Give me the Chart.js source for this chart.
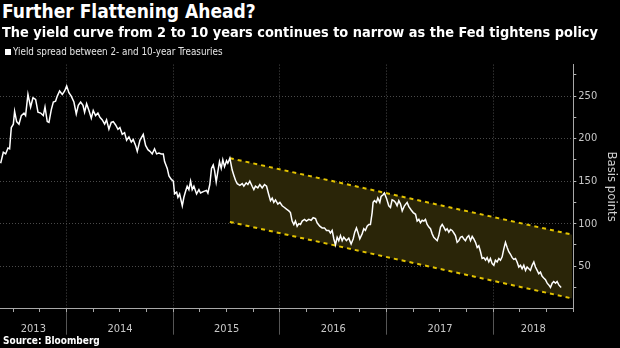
<!DOCTYPE html>
<html>
<head>
<meta charset="utf-8">
<script src="https://cdn.jsdelivr.net/npm/chart.js@4.4.1/dist/chart.umd.min.js"></script>
<style>
  html, body { margin: 0; padding: 0; background: #000; }
  body {
    width: 620px; height: 348px; position: relative; overflow: hidden;
    font-family: "DejaVu Sans Condensed", "DejaVu Sans", sans-serif; color: #fff;
  }
  canvas { position: absolute; left: 0; top: 56px; }
  .title { position: absolute; left: 2px; top: 0px; font-size: 19px; font-weight: bold; white-space: nowrap; }
  .subtitle { position: absolute; left: 2px; top: 24px; font-size: 14.4px; font-weight: bold; white-space: nowrap; }
  .legend { position: absolute; left: 5px; top: 46px; font-size: 9.8px; line-height: 12px; color: #e6e6e6; white-space: nowrap; }
  .legend i { display: inline-block; width: 6px; height: 6px; background: #fff; margin-right: 2px; vertical-align: 0px; }
  .source { position: absolute; left: 3px; top: 335px; font-size: 10px; font-weight: bold; white-space: nowrap; }
</style>
</head>
<body>
<canvas id="chart" width="620" height="292"></canvas>
<div class="title">Further Flattening Ahead?</div>
<div class="subtitle">The yield curve from 2 to 10 years continues to narrow as the Fed tightens policy</div>
<div class="legend"><i></i>Yield spread between 2- and 10-year Treasuries</div>
<div class="source">Source: Bloomberg</div>
<script>
// 2s10s spread, basis points, dates as decimal years
const dates = [
  2013.381, 2013.406, 2013.428, 2013.450, 2013.465, 2013.481, 2013.500, 2013.512, 2013.531, 2013.553,
  2013.575, 2013.600, 2013.615, 2013.637, 2013.662, 2013.684, 2013.709, 2013.731, 2013.756, 2013.781,
  2013.797, 2013.818, 2013.834, 2013.856, 2013.875, 2013.896, 2013.912, 2013.934, 2013.959, 2013.981,
  2014.000, 2014.021, 2014.043, 2014.068, 2014.090, 2014.109, 2014.131, 2014.153, 2014.168, 2014.187,
  2014.209, 2014.231, 2014.249, 2014.271, 2014.293, 2014.312, 2014.334, 2014.356, 2014.374, 2014.396,
  2014.418, 2014.437, 2014.459, 2014.481, 2014.499, 2014.521, 2014.543, 2014.562, 2014.584, 2014.606,
  2014.624, 2014.646, 2014.662, 2014.687, 2014.718, 2014.740, 2014.762, 2014.781, 2014.802, 2014.824,
  2014.843, 2014.865, 2014.887, 2014.906, 2014.918, 2014.943, 2014.959, 2014.981, 2015.000, 2015.012,
  2015.031, 2015.043, 2015.059, 2015.084, 2015.099, 2015.115, 2015.130, 2015.146, 2015.162, 2015.177,
  2015.193, 2015.218, 2015.240, 2015.255, 2015.286, 2015.311, 2015.324, 2015.342, 2015.358, 2015.374,
  2015.386, 2015.402, 2015.417, 2015.433, 2015.449, 2015.464, 2015.480, 2015.499, 2015.511, 2015.530,
  2015.552, 2015.567, 2015.583, 2015.599, 2015.624, 2015.646, 2015.661, 2015.683, 2015.699, 2015.717,
  2015.739, 2015.755, 2015.770, 2015.792, 2015.811, 2015.833, 2015.855, 2015.874, 2015.895, 2015.911,
  2015.927, 2015.942, 2015.958, 2015.980, 2015.999, 2016.020, 2016.042, 2016.061, 2016.083, 2016.098,
  2016.114, 2016.130, 2016.145, 2016.161, 2016.177, 2016.192, 2016.208, 2016.230, 2016.248, 2016.270,
  2016.292, 2016.311, 2016.333, 2016.348, 2016.373, 2016.395, 2016.417, 2016.436, 2016.458, 2016.473,
  2016.489, 2016.505, 2016.520, 2016.536, 2016.551, 2016.567, 2016.583, 2016.598, 2016.623, 2016.645,
  2016.667, 2016.686, 2016.701, 2016.717, 2016.730, 2016.748, 2016.770, 2016.786, 2016.801, 2016.817,
  2016.833, 2016.848, 2016.864, 2016.873, 2016.886, 2016.904, 2016.917, 2016.936, 2016.948, 2016.967,
  2016.979, 2016.998, 2017.020, 2017.036, 2017.051, 2017.067, 2017.083, 2017.098, 2017.114, 2017.130,
  2017.146, 2017.167, 2017.192, 2017.208, 2017.230, 2017.249, 2017.271, 2017.286, 2017.302, 2017.317,
  2017.333, 2017.349, 2017.364, 2017.380, 2017.396, 2017.411, 2017.427, 2017.442, 2017.458, 2017.474,
  2017.489, 2017.505, 2017.521, 2017.536, 2017.552, 2017.567, 2017.583, 2017.599, 2017.614, 2017.630,
  2017.645, 2017.661, 2017.677, 2017.692, 2017.708, 2017.724, 2017.739, 2017.755, 2017.770, 2017.786,
  2017.802, 2017.817, 2017.833, 2017.849, 2017.864, 2017.880, 2017.895, 2017.911, 2017.927, 2017.942,
  2017.958, 2017.973, 2017.989, 2018.005, 2018.020, 2018.036, 2018.052, 2018.067, 2018.083, 2018.098,
  2018.114, 2018.130, 2018.145, 2018.161, 2018.177, 2018.192, 2018.208, 2018.223, 2018.239, 2018.255,
  2018.270, 2018.286, 2018.302, 2018.317, 2018.333, 2018.348, 2018.364, 2018.380, 2018.395, 2018.411,
  2018.426, 2018.442, 2018.458, 2018.473, 2018.489, 2018.505, 2018.520, 2018.536, 2018.552, 2018.567,
  2018.583, 2018.598, 2018.614, 2018.636
];
const spread = [
  171, 184, 182, 189, 188, 213, 217, 232, 220, 217,
  227, 230, 227, 252, 237, 248, 246, 231, 230, 227,
  237, 220, 219, 234, 243, 244, 250, 256, 252, 256,
  262, 254, 250, 243, 229, 239, 243, 239, 231, 241,
  233, 224, 233, 227, 230, 225, 222, 217, 222, 211,
  219, 220, 216, 211, 213, 205, 207, 198, 202, 196,
  199, 192, 185, 198, 205, 192, 187, 185, 182, 188,
  182, 183, 182, 182, 173, 165, 156, 152, 150, 135,
  137, 131, 135, 121, 131, 138, 144, 140, 150, 140,
  144, 135, 140, 136, 138, 139, 136, 146, 165, 169,
  163, 149, 161, 173, 165, 175, 167, 174, 171, 177,
  163, 157, 151, 147, 145, 147, 144, 148, 146, 150,
  144, 140, 144, 142, 146, 142, 146, 144, 134, 127,
  130, 125, 128, 123, 125, 121, 119, 117, 115, 113,
  103, 99, 103, 97, 100, 99, 103, 105, 103, 105,
  104, 107, 106, 101, 97, 95, 95, 92, 92, 89,
  92, 82, 75, 84, 80, 86, 80, 84, 80, 83,
  76, 82, 90, 95, 90, 82, 88, 94, 92, 97,
  99, 99, 113, 125, 127, 125, 130, 125, 132, 134,
  136, 130, 121, 119, 128, 127, 125, 121, 127, 123,
  115, 121, 125, 120, 116, 113, 111, 103, 105, 101,
  104, 103, 105, 99, 96, 94, 88, 84, 82, 80,
  86, 96, 99, 96, 92, 94, 90, 93, 92, 89,
  86, 78, 80, 84, 85, 82, 80, 84, 86, 80,
  85, 82, 78, 72, 74, 67, 59, 60, 57, 60,
  55, 59, 53, 51, 57, 55, 59, 57, 61, 70,
  78, 72, 67, 64, 60, 58, 59, 55, 49, 51,
  47, 51, 45, 49, 47, 45, 51, 55, 49, 45,
  41, 43, 38, 36, 34, 30, 28, 25, 30, 32,
  30, 32, 28, 25
];

// flattening channel (dashed bounds)
const channelDates = [2015.53, 2018.74];
const channelUpper = [177, 87];
const channelLower = [102, 12];

const yTicks = [25, 50, 75, 100, 125, 150, 175, 200, 225, 250, 275];
const yearTicks = [2014, 2015, 2016, 2017, 2018];
const xMin = 2013.375, xMax = 2018.75;
const yMin = 0, yMax = 287;

// year labels sit in the middle of each visible year
const yearLabels = new Map();
for (let yr = Math.floor(xMin); yr <= Math.floor(xMax); yr++) {
  const mid = (Math.max(yr, xMin) + Math.min(yr + 1, xMax)) / 2;
  yearLabels.set(mid, String(yr));
}
const xTickValues = yearTicks.concat([...yearLabels.keys()]).sort((a, b) => a - b);

const quarterTicks = [];
for (let q = Math.ceil(xMin * 4) / 4; q <= xMax; q += 0.25) quarterTicks.push(q);

const clear = 'rgba(0,0,0,0)';
const gridGray = '#4a4a4a';
const labelGray = '#c8c8c8';

Chart.defaults.font.family = '"DejaVu Sans Condensed", "DejaVu Sans", sans-serif';

new Chart(document.getElementById('chart'), {
  type: 'line',
  data: {
    datasets: [
      {
        label: 'Yield spread between 2- and 10-year Treasuries',
        data: dates.map((d, i) => ({ x: d, y: spread[i] })),
        borderColor: '#ffffff',
        borderWidth: 1.5,
        pointRadius: 0,
        fill: false,
        order: 0,
      },
      {
        label: 'Channel top',
        data: channelDates.map((d, i) => ({ x: d, y: channelUpper[i] })),
        borderColor: '#e3c300',
        borderWidth: 2,
        borderDash: [4, 4],
        pointRadius: 0,
        fill: '+1',
        backgroundColor: '#2a2508',
        order: 2,
      },
      {
        label: 'Channel bottom',
        data: channelDates.map((d, i) => ({ x: d, y: channelLower[i] })),
        borderColor: '#e3c300',
        borderWidth: 2,
        borderDash: [4, 4],
        pointRadius: 0,
        fill: false,
        order: 1,
      },
    ],
  },
  options: {
    responsive: false,
    animation: false,
    devicePixelRatio: 1,
    layout: { padding: { top: 5, left: 0, right: 0, bottom: 0 } },
    plugins: {
      legend: { display: false },
      tooltip: { enabled: false },
    },
    scales: {
      x: {
        type: 'linear',
        min: xMin,
        max: xMax,
        afterBuildTicks: (s) => { s.ticks = xTickValues.map((v) => ({ value: v })); },
        afterFit: (s) => { s.height = 39.3; },
        ticks: {
          autoSkip: false,
          maxRotation: 0,
          padding: -12,
          color: labelGray,
          font: { size: 11 },
          callback: (v) => yearLabels.get(v) || '',
        },
        grid: {
          color: (c) => (c.tick && yearTicks.includes(c.tick.value) ? gridGray : clear),
          tickColor: (c) => (c.tick && yearTicks.includes(c.tick.value) ? '#555555' : clear),
          tickLength: 26,
          tickBorderDash: [],
        },
        border: { color: '#a8a8a8', dash: [1, 2] },
      },
      xq: {
        type: 'linear',
        axis: 'x',
        position: { y: 0 },
        min: xMin,
        max: xMax,
        afterBuildTicks: (s) => { s.ticks = quarterTicks.map((v) => ({ value: v })); },
        ticks: { display: false, autoSkip: false },
        grid: { drawOnChartArea: false, tickLength: 3, tickColor: '#a8a8a8' },
        border: { display: false },
      },
      y: {
        position: 'right',
        min: yMin,
        max: yMax,
        afterBuildTicks: (s) => { s.ticks = yTicks.map((v) => ({ value: v })); },
        afterFit: (s) => { s.width = 46.7; },
        ticks: {
          autoSkip: false,
          padding: 2,
          color: labelGray,
          font: { size: 11 },
          callback: (v) => (v % 50 === 0 ? v : ''),
        },
        grid: {
          color: (c) => (c.tick && c.tick.value % 50 === 0 ? gridGray : clear),
          tickColor: '#b8b8b8',
          tickLength: 3,
          tickBorderDash: [],
        },
        border: { color: '#a8a8a8', dash: [1, 2] },
        title: {
          display: true,
          text: 'Basis points',
          color: '#d0d0d0',
          font: { size: 13 },
          padding: { top: 1, bottom: 0 },
        },
      },
    },
  },
});
</script>
</body>
</html>
